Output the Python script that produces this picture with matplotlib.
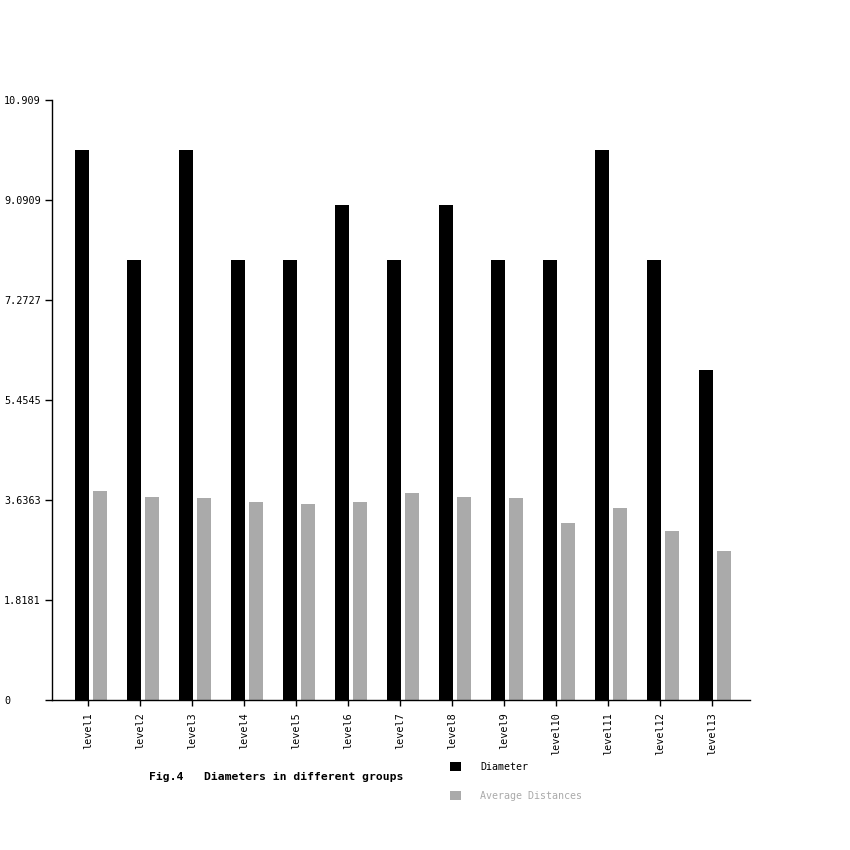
import numpy as np
import matplotlib.pyplot as plt

# values
levels    = [f"level{i}" for i in range(1, 14)]
diameter  = [10, 8, 10, 8, 8, 9, 8, 9, 8, 8, 10, 8, 6]
avg_dist  = [3.80, 3.69, 3.67, 3.60, 3.56, 3.60, 3.76, 3.69, 3.67, 3.22, 3.49, 3.07, 2.71]
yticks    = [0, 1.8181, 3.6363, 5.4545, 7.2727, 9.0909, 10.909]
ytick_lbl = ["0", "1.8181", "3.6363", "5.4545", "7.2727", "9.0909", "10.909"]

plt.rcParams["font.family"] = ["DejaVu Sans Mono"]

fig = plt.figure(figsize=(8.5, 8.5), dpi=100)
ax = fig.add_axes([52 / 850, 150 / 850, 698 / 850, 600 / 850])

x = np.arange(len(levels))
step = 52.0
bw = 14 / step
b1 = ax.bar(x - 13 / step, diameter, width=bw, align="edge", color="#000000", label="Diameter")
b2 = ax.bar(x + 5 / step, avg_dist, width=bw, align="edge", color="#aaaaaa", label="Average Distances")

ax.set_xlim(-36 / step, 12 + 38 / step)
ax.set_ylim(0, 10.909)

ax.spines[["top", "right"]].set_visible(False)
ax.spines["left"].set_linewidth(1)
ax.spines["bottom"].set_linewidth(1)

ax.set_yticks(yticks)
ax.set_yticklabels(ytick_lbl, fontsize=7.3, ha="left")
ax.tick_params(axis="y", length=5, width=1, pad=29.5)

ax.set_xticks(x)
ax.set_xticklabels(levels, rotation=90, fontsize=7.3, va="top", ha="center")
ax.tick_params(axis="x", length=4, width=1, pad=5)

fig.text(149 / 850, 1 - 777 / 850, "Fig.4   Diameters in different groups",
         fontsize=8.2, fontweight="bold", va="center", ha="left")

leg = fig.legend(handles=[b1, b2], loc="upper left",
                 bbox_to_anchor=(450 / 850, 1 - 761.5 / 850),
                 frameon=False, fontsize=7.2, handlelength=1.1, handleheight=1.1,
                 handletextpad=1.9, labelspacing=1.9, borderpad=0, borderaxespad=0,
                 labelcolor=["#000000", "#aaaaaa"])

fig.savefig("out.png", dpi=100, facecolor="white")
